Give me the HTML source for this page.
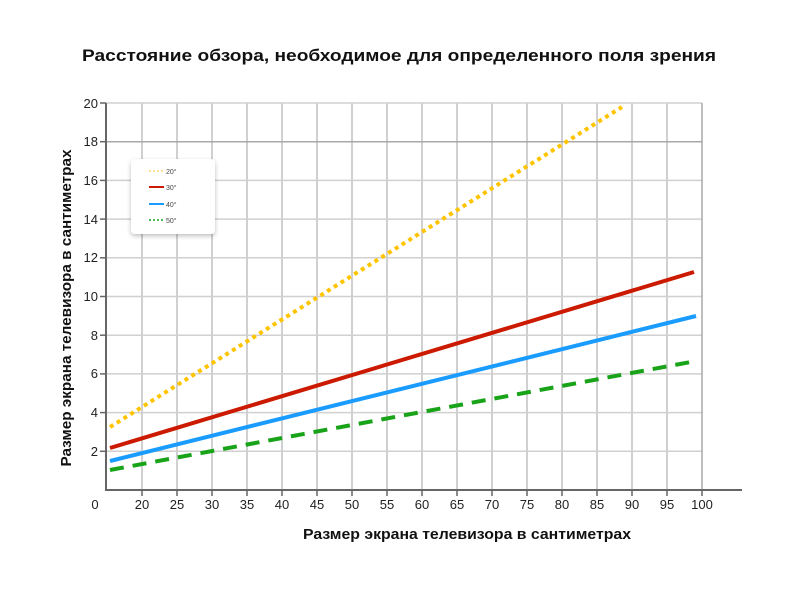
<!DOCTYPE html>
<html><head><meta charset="utf-8"><style>
body{margin:0;background:#fff;}
svg text{font-family:"Liberation Sans",sans-serif;}
</style></head><body>
<svg width="800" height="600" xmlns="http://www.w3.org/2000/svg">
<rect width="800" height="600" fill="#fff"/>
<text x="399" y="61" text-anchor="middle" font-size="17" font-weight="bold" fill="#111" textLength="634" lengthAdjust="spacingAndGlyphs">Расстояние обзора, необходимое для определенного поля зрения</text>
<g stroke="#d0d0d0" stroke-width="2">
<line x1="142" y1="103" x2="142" y2="490"/><line x1="177" y1="103" x2="177" y2="490"/><line x1="212" y1="103" x2="212" y2="490"/><line x1="247" y1="103" x2="247" y2="490"/><line x1="282" y1="103" x2="282" y2="490"/><line x1="317" y1="103" x2="317" y2="490"/><line x1="352" y1="103" x2="352" y2="490"/><line x1="387" y1="103" x2="387" y2="490"/><line x1="422" y1="103" x2="422" y2="490"/><line x1="457" y1="103" x2="457" y2="490"/><line x1="492" y1="103" x2="492" y2="490"/><line x1="527" y1="103" x2="527" y2="490"/><line x1="562" y1="103" x2="562" y2="490"/><line x1="597" y1="103" x2="597" y2="490"/><line x1="632" y1="103" x2="632" y2="490"/><line x1="667" y1="103" x2="667" y2="490"/>
</g>
<g stroke="#d0d0d0" stroke-width="1.5">
<line x1="106" y1="103" x2="702" y2="103"/><line x1="106" y1="180.4" x2="702" y2="180.4"/><line x1="106" y1="219.1" x2="702" y2="219.1"/><line x1="106" y1="257.8" x2="702" y2="257.8"/><line x1="106" y1="296.5" x2="702" y2="296.5"/><line x1="106" y1="335.2" x2="702" y2="335.2"/><line x1="106" y1="373.9" x2="702" y2="373.9"/><line x1="106" y1="412.6" x2="702" y2="412.6"/><line x1="106" y1="451.3" x2="702" y2="451.3"/>
</g>
<line x1="106" y1="141.7" x2="702" y2="141.7" stroke="#a8a8a8" stroke-width="1.5"/>
<line x1="702" y1="103" x2="702" y2="490" stroke="#a8a8a8" stroke-width="1.5"/>
<line x1="106" y1="103" x2="106" y2="491" stroke="#666" stroke-width="2"/>
<line x1="105" y1="490" x2="742" y2="490" stroke="#666" stroke-width="2"/>
<g stroke="#666" stroke-width="1.5">
<line x1="100" y1="103" x2="106" y2="103"/><line x1="100" y1="141.7" x2="106" y2="141.7"/><line x1="100" y1="180.4" x2="106" y2="180.4"/><line x1="100" y1="219.1" x2="106" y2="219.1"/><line x1="100" y1="257.8" x2="106" y2="257.8"/><line x1="100" y1="296.5" x2="106" y2="296.5"/><line x1="100" y1="335.2" x2="106" y2="335.2"/><line x1="100" y1="373.9" x2="106" y2="373.9"/><line x1="100" y1="412.6" x2="106" y2="412.6"/><line x1="100" y1="451.3" x2="106" y2="451.3"/>
<line x1="142" y1="490" x2="142" y2="496"/><line x1="177" y1="490" x2="177" y2="496"/><line x1="212" y1="490" x2="212" y2="496"/><line x1="247" y1="490" x2="247" y2="496"/><line x1="282" y1="490" x2="282" y2="496"/><line x1="317" y1="490" x2="317" y2="496"/><line x1="352" y1="490" x2="352" y2="496"/><line x1="387" y1="490" x2="387" y2="496"/><line x1="422" y1="490" x2="422" y2="496"/><line x1="457" y1="490" x2="457" y2="496"/><line x1="492" y1="490" x2="492" y2="496"/><line x1="527" y1="490" x2="527" y2="496"/><line x1="562" y1="490" x2="562" y2="496"/><line x1="597" y1="490" x2="597" y2="496"/><line x1="632" y1="490" x2="632" y2="496"/><line x1="667" y1="490" x2="667" y2="496"/><line x1="702" y1="490" x2="702" y2="496"/>
</g>
<g font-size="13" fill="#222" text-anchor="end">
<text x="98" y="108">20</text><text x="98" y="146">18</text><text x="98" y="185">16</text><text x="98" y="224">14</text><text x="98" y="262">12</text><text x="98" y="301">10</text><text x="98" y="340">8</text><text x="98" y="378">6</text><text x="98" y="417">4</text><text x="98" y="456">2</text>
</g>
<g font-size="13" fill="#222" text-anchor="middle">
<text x="95" y="509">0</text><text x="142" y="509">20</text><text x="177" y="509">25</text><text x="212" y="509">30</text><text x="247" y="509">35</text><text x="282" y="509">40</text><text x="317" y="509">45</text><text x="352" y="509">50</text><text x="387" y="509">55</text><text x="422" y="509">60</text><text x="457" y="509">65</text><text x="492" y="509">70</text><text x="527" y="509">75</text><text x="562" y="509">80</text><text x="597" y="509">85</text><text x="632" y="509">90</text><text x="667" y="509">95</text><text x="702" y="509">100</text>
</g>
<text x="467" y="539" text-anchor="middle" font-size="14.5" font-weight="bold" fill="#111" textLength="328" lengthAdjust="spacingAndGlyphs">Размер экрана телевизора в сантиметрах</text>
<text transform="translate(71,308) rotate(-90)" text-anchor="middle" font-size="14.5" font-weight="bold" fill="#111" textLength="317" lengthAdjust="spacingAndGlyphs">Размер экрана телевизора в сантиметрах</text>
<line x1="110" y1="427" x2="622" y2="107" stroke="#ffc400" stroke-width="4" stroke-dasharray="4,4"/>
<line x1="110" y1="448" x2="694" y2="272" stroke="#cc1a00" stroke-width="4"/>
<line x1="110" y1="461" x2="696" y2="316" stroke="#1a9cff" stroke-width="4"/>
<line x1="110" y1="470" x2="696" y2="361" stroke="#19a319" stroke-width="4" stroke-dasharray="14,9"/>
<defs><filter id="sh" x="-20%" y="-20%" width="140%" height="150%"><feDropShadow dx="0" dy="2" stdDeviation="2.5" flood-color="#000" flood-opacity="0.25"/></filter></defs>
<rect x="131" y="159" width="84" height="75" rx="4" fill="#fff" filter="url(#sh)"/>
<line x1="149" y1="171" x2="164" y2="171" stroke="#ffd966" stroke-width="1.5" stroke-dasharray="2,2"/>
<line x1="149" y1="187" x2="164" y2="187" stroke="#cc1a00" stroke-width="2"/>
<line x1="149" y1="204" x2="164" y2="204" stroke="#1a9cff" stroke-width="2"/>
<line x1="149" y1="220" x2="164" y2="220" stroke="#19a319" stroke-width="1.5" stroke-dasharray="2,2"/>
<g font-size="7" fill="#444"><text x="166" y="174">20°</text><text x="166" y="190">30°</text><text x="166" y="207">40°</text><text x="166" y="223">50°</text></g>
</svg>
</body></html>
